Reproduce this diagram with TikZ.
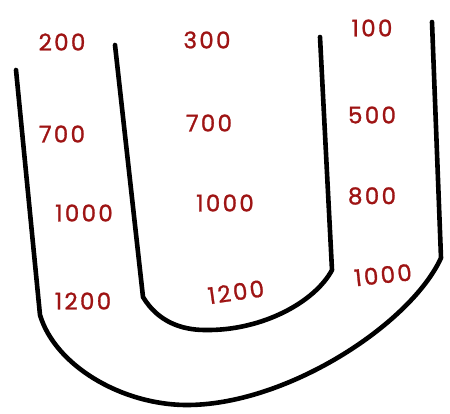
\documentclass[tikz,border=0pt]{standalone}
\usepackage{fontspec}
\newfontfamily\numfont[FakeBold=1.2,LetterSpace=10]{Poppins}
\definecolor{ink}{rgb}{0.62,0.08,0.08}
\tikzset{
  num/.style={text=ink, font=\numfont\fontsize{23}{24}\selectfont, inner sep=0pt},
  wall/.style={line width=4.6pt, line cap=round, line join=round, black}
}
\begin{document}
\begin{tikzpicture}[x=1pt,y=-1pt]
\useasboundingbox (0,0) rectangle (450,414);
% outer U
\coordinate (o1) at (16,70);
\coordinate (o2) at (40,315);
\coordinate (o3) at (185,405);
\coordinate (o4) at (441,258);
\coordinate (o5) at (432,22);
\draw[wall] (o1) -- (o2) .. controls (55,365) and (120,404) .. (o3)
  .. controls (285,406) and (410,325) .. (o4) -- (o5);
% inner U
\coordinate (i1) at (115,45);
\coordinate (i2) at (143,297);
\coordinate (i3) at (205,330);
\coordinate (i4) at (332,270);
\coordinate (i5) at (320,37);
\draw[wall] (i1) -- (i2) .. controls (158,322) and (182,330) .. (i3)
  .. controls (262,331) and (315,302) .. (i4) -- (i5);
% labels
\node[num] (a1) at (62,42) {200};
\node[num] (a2) at (62,134) {700};
\node[num] (a3) at (84,213) {1000};
\node[num] (a4) at (83,301) {1200};
\node[num] (b1) at (207,40) {300};
\node[num] (b2) at (209,123) {700};
\node[num] (b3) at (225,203) {1000};
\node[num, rotate=8] (b4) at (236,292) {1200};
\node[num] (c1) at (372,28) {100};
\node[num] (c2) at (372,115) {500};
\node[num] (c3) at (372,196) {800};
\node[num, rotate=6] (c4) at (383,275) {1000};
\end{tikzpicture}
\end{document}
